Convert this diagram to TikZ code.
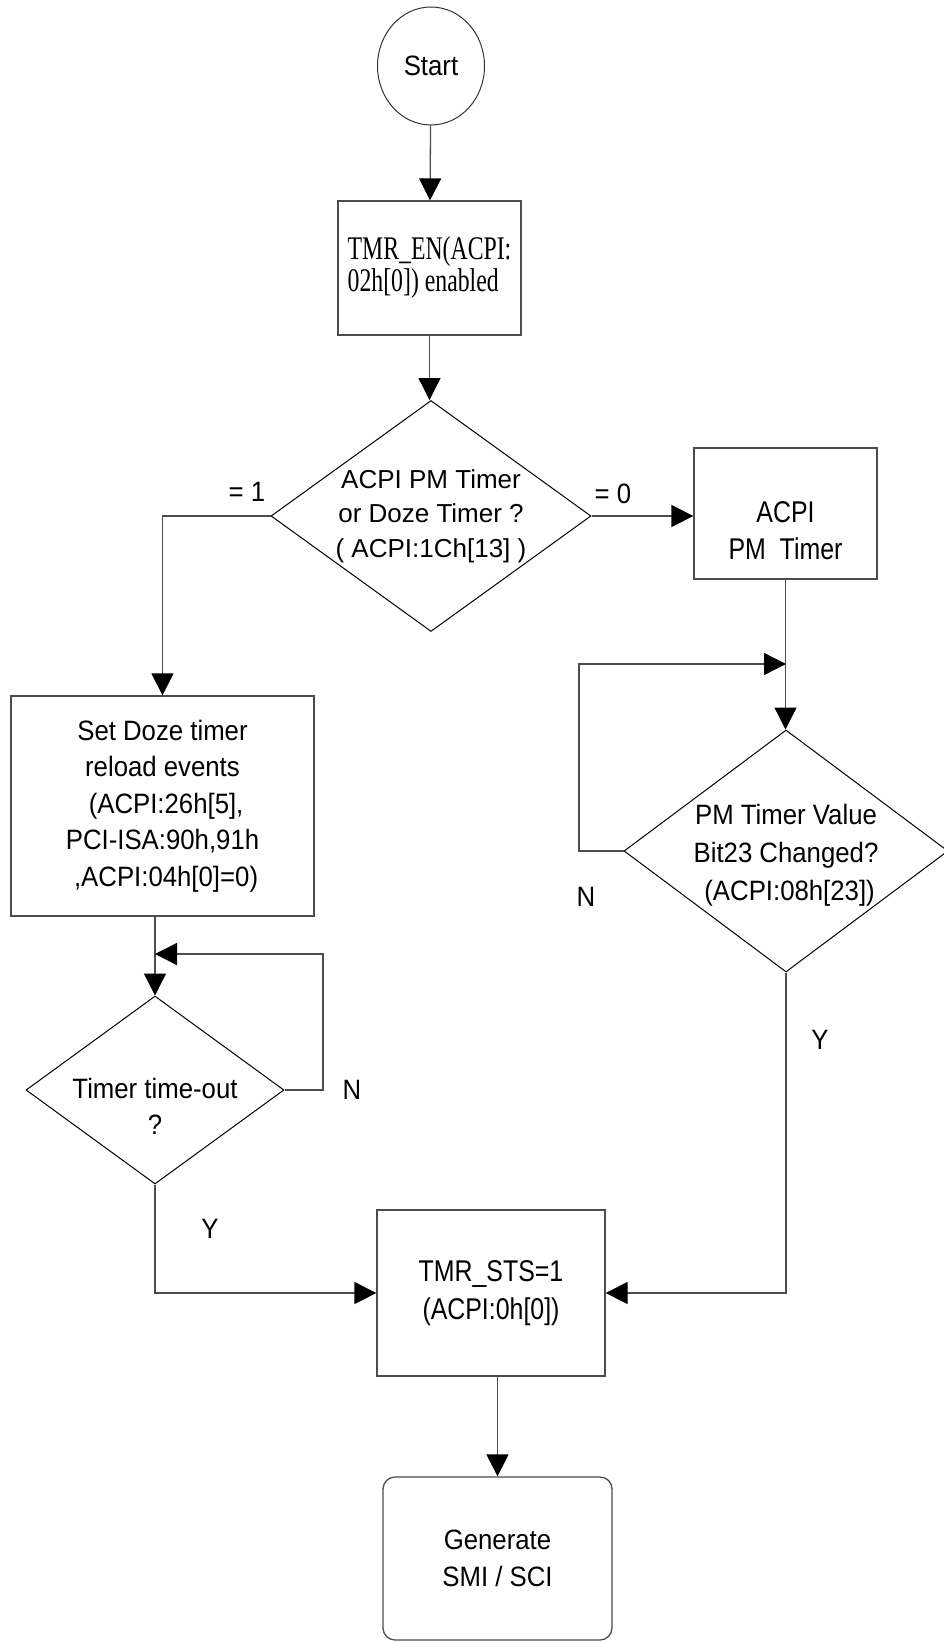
\documentclass[tikz,border=0pt]{standalone}
\usepackage{fontspec}
\setmainfont[FakeStretch=0.92]{Liberation Sans}
\newfontfamily\condsf[FakeStretch=0.83]{Liberation Sans}
\newfontfamily\plainsf{Liberation Sans}
\newfontfamily\condrm[FakeStretch=0.72]{Liberation Serif}
\usetikzlibrary{arrows.meta,shapes.geometric}

\tikzset{
  box/.style={draw=black!70, line width=1.3pt, rectangle, inner sep=0pt, align=center},
  decision/.style={draw=black, line width=1pt, diamond, inner sep=0pt},
  flow/.style={draw=black!70, line width=1.3pt, -{Triangle[length=22pt,width=22pt,color=black]}},
  txt/.style={font=\fontsize{28}{36}\selectfont, align=center, inner sep=0pt},
}

\begin{document}
\begin{tikzpicture}[x=1pt,y=-1pt]
        \clip (0,0) rectangle (944,1643);
        % top of the flow
        \node[draw=black!80, line width=1pt, ellipse, minimum width=107pt, minimum height=118pt, txt] (start) at (431,66) {Start};
        \node[box, minimum width=183pt, minimum height=134pt, align=left, font=\condrm\fontsize{33}{32}\selectfont] (tmren) at (429.5,268) {TMR\_EN(ACPI:\\02h[0]) enabled};
        \node[decision, minimum width=320pt, minimum height=231pt,
              label={[name=d1text, txt, font=\plainsf\fontsize{26}{34.5}\selectfont]center:ACPI PM Timer\\or Doze Timer ?\\( ACPI:1Ch[13] )}] (d1) at (431,516) {};
        \node[txt] (eqone) at (247,492) {= 1};
        \node[txt] (eqzero) at (613,494) {= 0};
        % right branch
        \node[box, minimum width=183pt, minimum height=131pt,
              label={[name=pmtext, txt, yshift=-17pt, font=\condsf\fontsize{30}{37}\selectfont]center:ACPI\\PM\ \ Timer}] (pm) at (785.5,513.5) {};
        \node[decision, minimum width=324pt, minimum height=242pt,
              label={[name=d2text, txt, yshift=-4pt, font=\fontsize{28}{38}\selectfont]center:PM Timer Value\\Bit23 Changed?\\\ (ACPI:08h[23])}] (d2) at (786,851) {};
        \coordinate (d2join) at (786,664);
        \coordinate (d2back) at (579,851);
        \node[txt] (nright) at (586,897) {N};
        \node[txt] (yright) at (820,1040) {Y};
        % left branch
        \node[box, minimum width=303pt, minimum height=220pt, txt, font=\fontsize{28}{36.5}\selectfont] (doze) at (162.5,806) {Set Doze timer\\reload events\\\ (ACPI:26h[5],\\PCI-ISA:90h,91h\\\ ,ACPI:04h[0]=0)};
        \node[decision, minimum width=258pt, minimum height=188pt,
              label={[name=d3text, txt, yshift=-16pt, font=\fontsize{28}{36}\selectfont]center:Timer time-out\\?}] (d3) at (155,1090) {};
        \coordinate (d3join) at (155,954);
        \coordinate (d3back) at (323,1090);
        \node[txt] (nleft) at (352,1090) {N};
        \node[txt] (yleft) at (210,1229) {Y};
        % bottom
        \node[box, minimum width=228pt, minimum height=166pt, font=\condsf\fontsize{30}{38}\selectfont] (sts) at (491,1293) {TMR\_STS=1\\(ACPI:0h[0])};
        \node[box, rounded corners=12pt, minimum width=229pt, minimum height=163pt, txt, font=\fontsize{28}{37}\selectfont] (gen) at (497.5,1558.5) {Generate\\SMI / SCI};

        \draw[flow] (start) -- (tmren);
        \draw[flow] (tmren.south) -- (tmren.south |- d1.north);
        \draw[flow] (d1.west) -| (doze.north);
        \draw[flow] (d1.east) -- (d1.east -| pm.west);
        \draw[flow] (pm.south) -- (pm.south |- d2.north);
        \draw[flow] (d2.west) -- (d2back) |- (d2join);
        \draw[flow] (d2.south) |- (sts.east);
        \draw[flow] (doze.south -| d3.north) -- (d3.north);
        \draw[flow] (d3.east) -- (d3back) |- (d3join);
        \draw[flow] (d3.south) |- (sts.west);
        \draw[flow] (sts.south -| gen.north) -- (gen.north);
\end{tikzpicture}
\end{document}
